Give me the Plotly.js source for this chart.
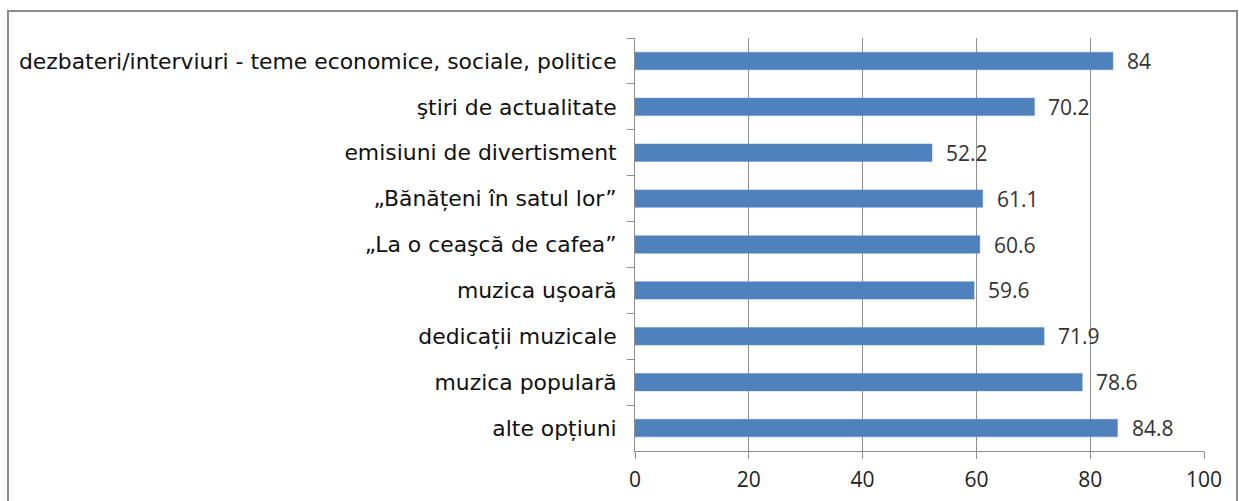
<!DOCTYPE html>
<html>
<head>
<meta charset="utf-8">
<script src="https://cdn.plot.ly/plotly-3.0.1.min.js"></script>
<style>
  html, body { margin: 0; padding: 0; background: #ffffff; }
  #chart { width: 1239px; height: 501px; }
</style>
</head>
<body>
<div id="chart"></div>
<script>
const categories = [
  "dezbateri/interviuri - teme economice, sociale, politice",
  "ştiri de actualitate",
  "emisiuni de divertisment",
  "„Bănățeni în satul lor”",
  "„La o ceaşcă de cafea”",
  "muzica uşoară",
  "dedicații muzicale",
  "muzica populară",
  "alte opțiuni"
];
const values = [84, 70.2, 52.2, 61.1, 60.6, 59.6, 71.9, 78.6, 84.8];
const xTicks = [0, 20, 40, 60, 80, 100];

const trace = {
  type: "bar",
  orientation: "h",
  x: values,
  y: categories,
  width: 0.38,
  marker: { color: "#4F81BD", line: { color: "#5b8cc6", width: 0.5 } },
  hoverinfo: "x+y"
};

const annotations = values.map((v, i) => ({
  x: v, y: categories[i], xref: "x", yref: "y",
  text: String(v), showarrow: false,
  xanchor: "left", yanchor: "middle", xshift: 12,
  font: { family: "Open Sans, sans-serif", size: 21, color: "#333333" }
}));

const layout = {
  width: 1239, height: 501,
  margin: { l: 635, r: 35, t: 38, b: 50 },
  paper_bgcolor: "#ffffff",
  plot_bgcolor: "#ffffff",
  showlegend: false,
  bargap: 0.62,
  xaxis: {
    range: [0, 100],
    tickvals: xTicks,
    ticktext: xTicks.map(String),
    showgrid: true, gridcolor: "#8f8f8f", gridwidth: 1,
    zeroline: false,
    showline: true, linecolor: "#8f8f8f", linewidth: 1,
    ticks: "outside", ticklen: 7, tickcolor: "#8f8f8f",
    tickfont: { family: "Open Sans, sans-serif", size: 21, color: "#222222" },
    ticklabelstandoff: 3,
    fixedrange: true
  },
  yaxis: {
    type: "category",
    autorange: "reversed",
    showgrid: false, zeroline: false,
    showline: true, linecolor: "#8f8f8f", linewidth: 1,
    ticks: "outside", ticklen: 7, tickcolor: "#8f8f8f",
    tickson: "boundaries",
    tickfont: { family: "DejaVu Sans, sans-serif", size: 21.9, color: "#111111" },
    ticklabelstandoff: 13,
    fixedrange: true
  },
  annotations: annotations,
  shapes: [{
    type: "rect", xref: "paper", yref: "paper",
    x0: (8 - 635) / 569, x1: (1237 - 635) / 569,
    y0: (451 - 520) / 413, y1: (451 - 11) / 413,
    line: { color: "#8c8c8c", width: 2 }, fillcolor: "rgba(0,0,0,0)",
    layer: "below"
  }]
};

Plotly.newPlot("chart", [trace], layout, { displayModeBar: false, staticPlot: true });
</script>
</body>
</html>
